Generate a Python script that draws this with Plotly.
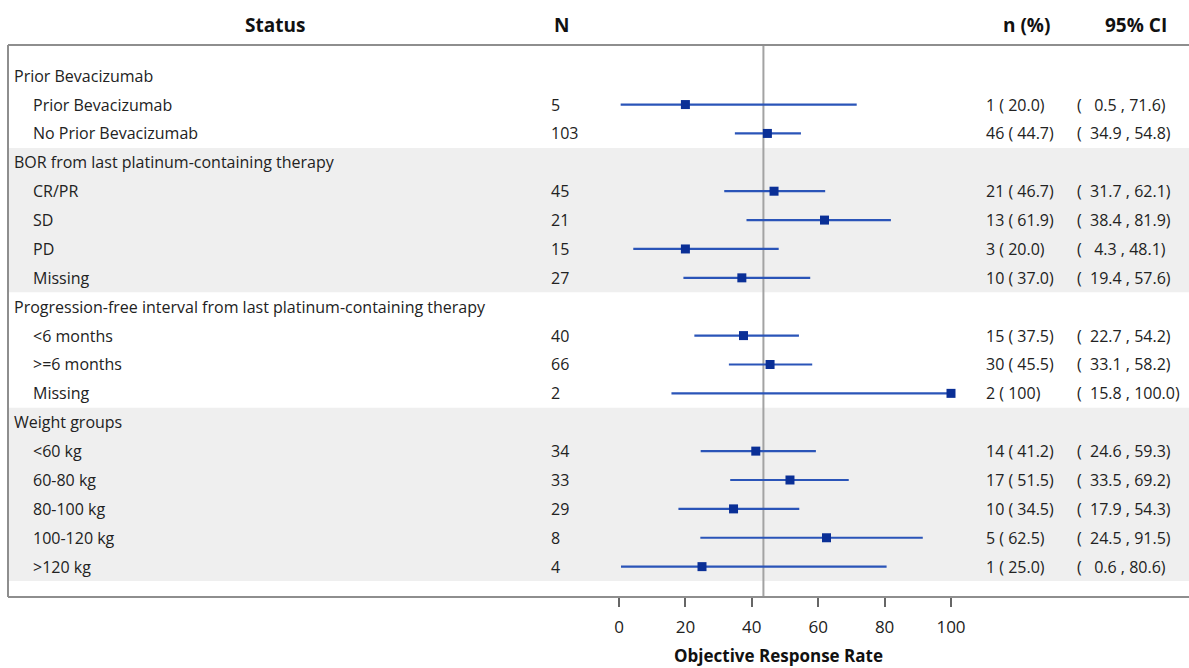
import plotly.graph_objects as go

# Subgroup table: group headers and the rows beneath each
group_names = [
    "Prior Bevacizumab",
    "BOR from last platinum-containing therapy",
    "Progression-free interval from last platinum-containing therapy",
    "Weight groups",
]
group_members = [
    ["Prior Bevacizumab", "No Prior Bevacizumab"],
    ["CR/PR", "SD", "PD", "Missing"],
    ["<6 months", ">=6 months", "Missing"],
    ["<60 kg", "60-80 kg", "80-100 kg", "100-120 kg", ">120 kg"],
]
n_total = [5, 103, 45, 21, 15, 27, 40, 66, 2, 34, 33, 29, 8, 4]
n_resp = [1, 46, 21, 13, 3, 10, 15, 30, 2, 14, 17, 10, 5, 1]
orr_pct = [20.0, 44.7, 46.7, 61.9, 20.0, 37.0, 37.5, 45.5, 100.0, 41.2, 51.5, 34.5, 62.5, 25.0]
ci_low = [0.5, 34.9, 31.7, 38.4, 4.3, 19.4, 22.7, 33.1, 15.8, 24.6, 33.5, 17.9, 24.5, 0.6]
ci_high = [71.6, 54.8, 62.1, 81.9, 48.1, 57.6, 54.2, 58.2, 100.0, 59.3, 69.2, 54.3, 91.5, 80.6]
overall_orr = 43.5
x_ticks = [0, 20, 40, 60, 80, 100]

NBSP = "\u00a0"

def fmt_n_pct(n, p):
    pstr = f"{p:5.1f}" if p < 100 else " 100"
    return f"{n} ({pstr})".replace(" ", NBSP)

def fmt_ci(lo, hi):
    return f"( {lo:5.1f} , {hi:4.1f})".replace(" ", NBSP)

# Lay out rows: one blank slot at the top, then header + members per group
rows = []  # (row_index, label, is_header, data_index)
r = 1
k = 0
band_spans = []
for gi, (gname, members) in enumerate(zip(group_names, group_members)):
    start = r
    rows.append((r, gname, True, None))
    r += 1
    for m in members:
        rows.append((r, m, False, k))
        k += 1
        r += 1
    if gi % 2 == 1:
        band_spans.append((start - 0.5, r - 0.5))

item_rows = [row for row in rows if not row[2]]
y_items = [row[0] for row in item_rows]

W, H = 1189, 668
L, R, T, B = 8, 0, 45, 71
PX0, PX100 = 619, 951
scale = (PX100 - PX0) / 100.0
x_range = [(L - PX0) / scale, (W - R - PX0) / scale]
row_h = 28.88
y_top_row = 46.8
y_range = [(H - B - y_top_row) / row_h, (T - y_top_row) / row_h]

def xp(px):
    return (px - L) / (W - L - R)

def yp(py):
    return (H - B - py) / (H - T - B)

font_family = "Open Sans, Noto Sans, sans-serif"
text_color = "#222222"
line_blue = "#2a54b8"
marker_blue = "#0a2f96"

fig = go.Figure()

fig.add_trace(go.Scatter(
    x=orr_pct,
    y=y_items,
    mode="markers",
    marker=dict(symbol="square", size=9, color=marker_blue),
    error_x=dict(
        type="data",
        symmetric=False,
        array=[h - p for h, p in zip(ci_high, orr_pct)],
        arrayminus=[p - l for p, l in zip(orr_pct, ci_low)],
        width=0,
        thickness=2.2,
        color=line_blue,
    ),
    showlegend=False,
    hoverinfo="skip",
))

shapes = []
for y0, y1 in band_spans:
    shapes.append(dict(type="rect", xref="paper", yref="y", x0=0, x1=1.01, y0=y0, y1=y1,
                       fillcolor="#efefef", line=dict(width=0), layer="below"))
# reference line at the overall response rate
shapes.append(dict(type="line", xref="x", yref="paper", x0=overall_orr, x1=overall_orr, y0=0, y1=1,
                   line=dict(color="#a3a3a3", width=2), layer="below"))
# frame: top, left, bottom
frame = dict(color="#8e8e8e", width=2)
shapes.append(dict(type="line", xref="paper", yref="paper", x0=0, x1=1.02, y0=1, y1=1, line=frame))
shapes.append(dict(type="line", xref="paper", yref="paper", x0=0, x1=0, y0=0, y1=1, line=frame))
shapes.append(dict(type="line", xref="paper", yref="paper", x0=0, x1=1.02, y0=0, y1=0, line=frame))

annotations = []
body = dict(family=font_family, size=16, color=text_color)
head = dict(family=font_family, size=19, color="#111111")

for text, cx in [("<b>Status</b>", 275), ("<b>N</b>", 561), ("<b>n (%)</b>", 1026), ("<b>95% CI</b>", 1136)]:
    annotations.append(dict(text=text, xref="paper", yref="paper", x=xp(cx), y=yp(25),
                            xanchor="center", yanchor="middle", showarrow=False, font=head))

for ri, label, is_header, di in rows:
    annotations.append(dict(text=label, xref="paper", yref="y", x=xp(12 if is_header else 31), y=ri,
                            xanchor="left", yanchor="middle", showarrow=False, font=body))
    if di is not None:
        annotations.append(dict(text=str(n_total[di]), xref="paper", yref="y", x=xp(549), y=ri,
                                xanchor="left", yanchor="middle", showarrow=False, font=body))
        annotations.append(dict(text=fmt_n_pct(n_resp[di], orr_pct[di]), xref="paper", yref="y",
                                x=xp(984), y=ri, xanchor="left", yanchor="middle", showarrow=False, font=body))
        annotations.append(dict(text=fmt_ci(ci_low[di], ci_high[di]), xref="paper", yref="y",
                                x=xp(1075), y=ri, xanchor="left", yanchor="middle", showarrow=False, font=body))

annotations.append(dict(text="<b>Objective Response Rate</b>", xref="paper", yref="paper",
                        x=xp(778), y=yp(655), xanchor="center", yanchor="middle", showarrow=False,
                        font=dict(family=font_family, size=17, color="#111111")))

fig.update_layout(
    width=W, height=H,
    margin=dict(l=L, r=R, t=T, b=B),
    paper_bgcolor="white", plot_bgcolor="white",
    shapes=shapes, annotations=annotations,
    xaxis=dict(range=x_range, tickvals=x_ticks, ticktext=[str(v) for v in x_ticks],
               showgrid=False, zeroline=False, showline=False,
               ticks="outside", ticklen=9, tickwidth=1.5, tickcolor="#666666",
               tickfont=dict(family=font_family, size=17, color=text_color),
               ticklabelstandoff=6),
    yaxis=dict(range=y_range, showgrid=False, zeroline=False, showticklabels=False, showline=False),
)

fig.write_html("out.html")
